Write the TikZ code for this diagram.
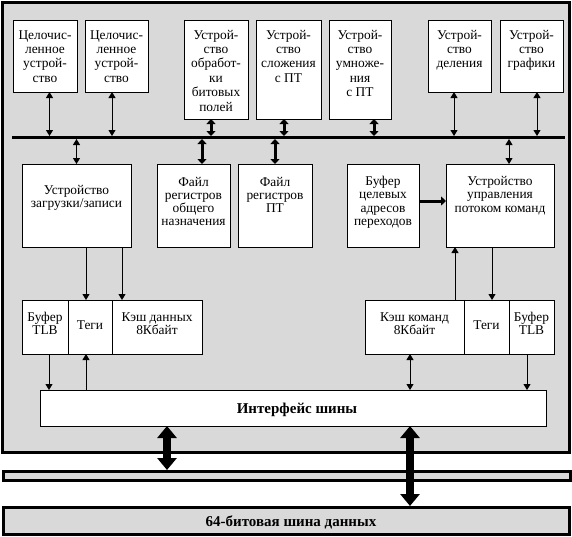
\documentclass[tikz,border=0pt]{standalone}
\usepackage{fontspec}
\setmainfont{Liberation Serif}
\usetikzlibrary{arrows.meta}
\definecolor{bg}{RGB}{217,217,217}
\newcommand{\ml}[2]{\parbox[t]{#1}{\centering #2}}
\tikzset{
  unit/.style={draw, fill=white, line width=1pt, inner sep=0pt, outer sep=0pt, anchor=north west},
  lbl/.style={anchor=base, inner sep=0pt, outer sep=0pt},
  toplbl/.style={lbl, font=\fontsize{13.4}{14.4}\selectfont},
  midlbl/.style={lbl, font=\fontsize{13.4}{13.3}\selectfont},
  boldlbl/.style={lbl, font=\fontsize{15}{16}\selectfont\bfseries},
  frameline/.style={draw=black, line width=3pt, fill=bg},
  da/.style={line width=1pt, {Triangle[length=6pt,width=7pt]}-{Triangle[length=6pt,width=7pt]}},
  sa/.style={line width=1pt, -{Triangle[length=6pt,width=7pt]}},
  fatda/.style={line width=3pt, {Triangle[length=5pt,width=9pt]}-{Triangle[length=5pt,width=9pt]}},
  fatsa/.style={line width=3pt, -{Triangle[length=5pt,width=9pt]}},
  bigda/.style={line width=7.5pt, {Triangle[length=12pt,width=19pt]}-{Triangle[length=12pt,width=19pt]}}
}
\begin{document}
\begin{tikzpicture}[x=1pt, y=-1pt]
\useasboundingbox (0,0) rectangle (572,536);
% frames and bars
\draw[frameline] (2.5,2.5) rectangle (569,452.5);
\draw[frameline] (3.5,471.5) rectangle (570,480.5);
\draw[frameline] (3.5,507.5) rectangle (569,534.5);
% top row units
\node[unit, minimum width=64pt, minimum height=72pt] (b1) at (13,20) {};
\node[unit, minimum width=63pt, minimum height=72pt] (b2) at (85,20) {};
\node[unit, minimum width=64pt, minimum height=99pt] (b3) at (184,20) {};
\node[unit, minimum width=65pt, minimum height=99pt] (b4) at (256,20) {};
\node[unit, minimum width=62pt, minimum height=99pt] (b5) at (329,20) {};
\node[unit, minimum width=63pt, minimum height=72pt] (b6) at (428,20) {};
\node[unit, minimum width=63pt, minimum height=72pt] (b7) at (500,20) {};
\node[toplbl] (t1) at (45,39) {\ml{62pt}{Целочис-\\ленное\\устрой-\\ство}};
\node[toplbl] (t2) at (116.5,39) {\ml{62pt}{Целочис-\\ленное\\устрой-\\ство}};
\node[toplbl] (t3) at (216,39) {\ml{62pt}{Устрой-\\ство\\обработ-\\ки\\битовых\\полей}};
\node[toplbl] (t4) at (288.5,39) {\ml{64pt}{Устрой-\\ство\\сложения\\с ПТ}};
\node[toplbl] (t5) at (360,39) {\ml{62pt}{Устрой-\\ство\\умноже-\\ния\\с ПТ}};
\node[toplbl] (t6) at (459.5,39) {\ml{62pt}{Устрой-\\ство\\деления}};
\node[toplbl] (t7) at (531.5,39) {\ml{62pt}{Устрой-\\ство\\графики}};
% internal bus
\node[fill=black, inner sep=0pt, outer sep=0pt, minimum width=553pt, minimum height=3pt, anchor=west] (bus) at (12,137.5) {};
% middle row
\node[unit, minimum width=109pt, minimum height=83pt] (ls) at (22,164) {};
\node[unit, minimum width=73pt, minimum height=83pt] (rgp) at (157,164) {};
\node[unit, minimum width=74pt, minimum height=83pt] (rfp) at (238,164) {};
\node[unit, minimum width=72pt, minimum height=83pt] (btb) at (347,164) {};
\node[unit, minimum width=108pt, minimum height=83pt] (fc) at (446,164) {};
\node[midlbl] (tls) at (76.5,194.5) {\ml{108pt}{Устройство\\загрузки/записи}};
\node[midlbl] (trgp) at (193.5,186) {\ml{72pt}{Файл\\регистров\\общего\\назначения}};
\node[midlbl] (trfp) at (275,186) {\ml{72pt}{Файл\\регистров\\ПТ}};
\node[midlbl] (tbtb) at (383,185.5) {\ml{72pt}{Буфер\\целевых\\адресов\\переходов}};
\node[midlbl] (tfc) at (500,185.5) {\ml{106pt}{Устройство\\управления\\потоком команд}};
% caches
\node[unit, minimum width=46pt, minimum height=54pt] (tlbL) at (22,300) {};
\node[unit, minimum width=44pt, minimum height=54pt] (tagL) at (68,300) {};
\node[unit, minimum width=90pt, minimum height=54pt] (dc) at (112,300) {};
\node[unit, minimum width=99pt, minimum height=54pt] (ic) at (365,300) {};
\node[unit, minimum width=45pt, minimum height=54pt] (tagR) at (464,300) {};
\node[unit, minimum width=45pt, minimum height=54pt] (tlbR) at (509,300) {};
\node[midlbl] (ttlbL) at (45,321) {\ml{46pt}{Буфер\\TLB}};
\node[midlbl] (ttagL) at (90,329) {Теги};
\node[midlbl] (tdc) at (157,321) {\ml{90pt}{Кэш данных\\8Кбайт}};
\node[midlbl] (tic) at (414.5,321) {\ml{99pt}{Кэш команд\\8Кбайт}};
\node[midlbl] (ttagR) at (486.5,329) {Теги};
\node[midlbl] (ttlbR) at (531.5,321) {\ml{45pt}{Буфер\\TLB}};
% bus interface
\node[unit, minimum width=506pt, minimum height=36pt] (bi) at (40,390) {};
\node[boldlbl] (tbi) at (297,413) {Интерфейс шины};
\node[boldlbl] (tdb) at (291,526) {64-битовая шина данных};
\coordinate (barL) at (167,470);
\coordinate (barB) at (410,506);
% connectors: top units <-> bus
\draw[da] ([xshift=4.5pt]b1.south) -- ([xshift=4.5pt]b1.south |- bus.north);
\draw[da] ([xshift=-4.5pt]b2.south) -- ([xshift=-4.5pt]b2.south |- bus.north);
\draw[fatda] ([xshift=-5pt]b3.south) -- ([xshift=-5pt]b3.south |- bus.north);
\draw[fatda] ([xshift=-4.5pt]b4.south) -- ([xshift=-4.5pt]b4.south |- bus.north);
\draw[fatda] ([xshift=14pt]b5.south) -- ([xshift=14pt]b5.south |- bus.north);
\draw[da] ([xshift=-5.5pt]b6.south) -- ([xshift=-5.5pt]b6.south |- bus.north);
\draw[da] ([xshift=5.5pt]b7.south) -- ([xshift=5.5pt]b7.south |- bus.north);
% bus <-> middle row
\draw[da] (ls.north) -- (ls.north |- bus.south);
\draw[fatda] ([xshift=8.5pt]rgp.north) -- ([xshift=8.5pt]rgp.north |- bus.south);
\draw[fatda] (rfp.north) -- (rfp.north |- bus.south);
\draw[da] ([xshift=9pt]fc.north) -- ([xshift=9pt]fc.north |- bus.south);
\draw[fatsa] (btb.east |- 0,201) -- (fc.west |- 0,201);
% load/store -> data cache
\draw[sa] ([xshift=9.5pt]ls.south) -- ([xshift=9.5pt]ls.south |- tagL.north);
\draw[sa] ([xshift=45.5pt]ls.south) -- ([xshift=45.5pt]ls.south |- dc.north);
\draw[sa] ([xshift=4pt]tlbL.south) -- ([xshift=4pt]tlbL.south |- bi.north);
\draw[sa] ([xshift=-4pt]tagL.south |- bi.north) -- ([xshift=-4pt]tagL.south);
% flow control <-> instruction cache
\draw[sa] ([xshift=40.5pt]ic.north) -- ([xshift=40.5pt]ic.north |- fc.south);
\draw[sa] ([xshift=-8pt]fc.south) -- ([xshift=-8pt]fc.south |- tagR.north);
\draw[da] ([xshift=-4.5pt]ic.south) -- ([xshift=-4.5pt]ic.south |- bi.north);
\draw[sa] ([xshift=-4.5pt]tlbR.south) -- ([xshift=-4.5pt]tlbR.south |- bi.north);
% external buses
\draw[bigda] (bi.south -| barL) -- (barL);
\draw[bigda] (bi.south -| barB) -- (barB);
\end{tikzpicture}
\end{document}
